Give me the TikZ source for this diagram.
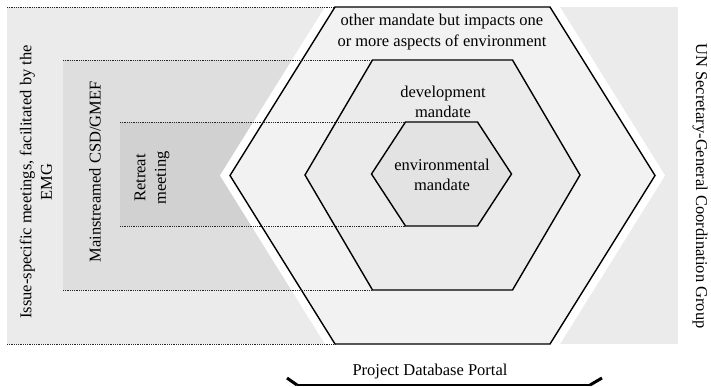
\documentclass[tikz,border=0pt]{standalone}
\usepackage{fontspec}
\setmainfont{Liberation Serif}
\usetikzlibrary{positioning}

% name, centre x, centre y, half width of flat side, half width at tips, half height
\newcommand{\hexpath}[6]{(#2-#4,#3-#6) coordinate (#1-tl) -- (#2+#4,#3-#6) coordinate (#1-tr)
  -- (#2+#5,#3) -- (#2+#4,#3+#6) coordinate (#1-br) -- (#2-#4,#3+#6) coordinate (#1-bl)
  -- (#2-#5,#3) -- cycle}

\begin{document}
\begin{tikzpicture}[x=1pt, y=-1pt,
    txt/.style={font=\fontsize{16.5}{20.5}\selectfont, align=center, inner sep=0pt},
    hexline/.style={draw=black, line width=1.4pt, line join=miter},
    guide/.style={densely dotted, line width=0.8pt, black!85}]
    \useasboundingbox (0,0) rectangle (711,387);
    % grey bands behind the hexagons
    \fill[black!8]  (7,7)    rectangle (678,344);
    \fill[black!13] (63,60)  rectangle (330,290);
    \fill[black!18] (120,122) rectangle (330,226);
    % white margin round the outer hexagon
    \draw[white, line width=17pt, line join=miter] \hexpath{margin}{442.5}{175.5}{107.5}{212.5}{168.5};
    % the three mandates
    \filldraw[hexline, fill=black!5]  \hexpath{outer}{442.5}{175.5}{107.5}{212.5}{168.5};
    \filldraw[hexline, fill=black!8]  \hexpath{mid}{442.5}{175}{70}{137.5}{115};
    \filldraw[hexline, fill=black!11] \hexpath{inner}{441.5}{174}{36}{70}{52};
    % dotted limits of the meetings
    \draw[guide] (7,7)     -- (outer-tl);
    \draw[guide] (7,344)   -- (outer-bl);
    \draw[guide] (63,60)   -- (mid-tl);
    \draw[guide] (63,290)  -- (mid-bl);
    \draw[guide] (120,122) -- (inner-tl);
    \draw[guide] (120,226) -- (inner-bl);
    % labels
    \node[txt] (outertxt) at (442,32)  {other mandate but impacts one\\or more aspects of environment};
    \node[txt] (devtxt)   at (443,102) {development\\mandate};
    \node[txt] (envtxt)   at (442,175) {environmental\\mandate};
    \node[txt, rotate=90]  (emg)     at (36,182)  {Issue-specific meetings, facilitated by the\\EMG};
    \node[txt, rotate=90]  (csd)     at (95,172)  {Mainstreamed CSD/GMEF};
    \node[txt, rotate=90]  (retreat) at (152,178) {Retreat\\meeting};
    \node[txt, rotate=-90] (unsg)    at (700,186) {UN Secretary-General Coordination Group};
    \node[txt] (portal) at (430,372) {Project Database Portal};
    % bracket under the portal
    \draw[line width=1.2pt] (297,385) -- (590,385);
    \draw[line width=3pt] (287,378) -- (297,385);
    \draw[line width=3pt] (590,385) -- (602,378);
\end{tikzpicture}
\end{document}
